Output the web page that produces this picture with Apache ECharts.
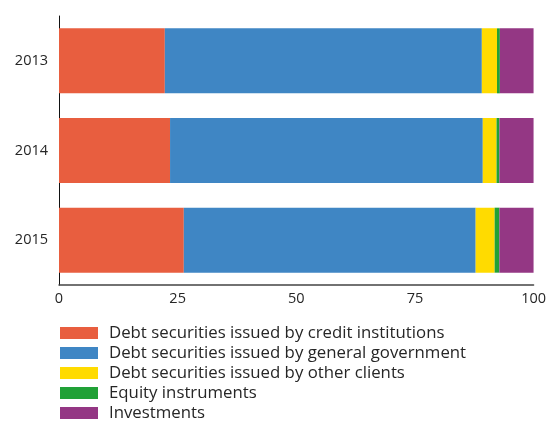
<!DOCTYPE html>
<html>
<head>
<meta charset="utf-8">
<script src="https://cdn.jsdelivr.net/npm/echarts@6/dist/echarts.min.js"></script>
<style>
  html, body { margin: 0; padding: 0; background: #fff; }
  #chart { width: 549px; height: 422px; }
</style>
</head>
<body>
<div id="chart"></div>
<script>
// Portfolio composition by year, shares in percent
const years = ['2013', '2014', '2015'];
const seriesNames = [
  'Debt securities issued by credit institutions',
  'Debt securities issued by general government',
  'Debt securities issued by other clients',
  'Equity instruments',
  'Investments'
];
const creditInstitutions = [22.3, 23.4, 26.3];
const generalGovernment = [66.8, 65.9, 61.5];
const otherClients = [3.2, 2.9, 4.0];
const equityInstruments = [0.6, 0.6, 1.0];
const investments = [7.1, 7.2, 7.2];
const xTicks = [0, 25, 50, 75, 100];

const colors = ['#e85e3f', '#3f86c4', '#ffdb00', '#21a136', '#943784'];
const values = [creditInstitutions, generalGovernment, otherClients, equityInstruments, investments];

const chart = echarts.init(document.getElementById('chart'));
chart.setOption({
  animation: false,
  textStyle: { fontFamily: 'Open Sans, sans-serif' },
  grid: { left: 59, right: 15, top: 16, bottom: 137 },
  legend: {
    orient: 'vertical',
    left: 60,
    top: 323,
    height: 110,
    itemWidth: 38,
    itemHeight: 12,
    itemGap: 0,
    icon: 'rect',
    padding: 0,
    textStyle: { fontSize: 16.8, lineHeight: 20, color: '#262626', padding: [0, 0, 0, 6] },
    data: seriesNames
  },
  xAxis: {
    type: 'value',
    min: xTicks[0],
    max: xTicks[xTicks.length - 1],
    interval: 25,
    splitLine: { show: false },
    axisLine: { show: true, lineStyle: { color: '#444', width: 1.5 } },
    axisTick: { show: false },
    axisLabel: { fontSize: 14.5, color: '#262626', margin: 6 }
  },
  yAxis: {
    type: 'category',
    inverse: true,
    data: years,
    axisLine: { show: true, lineStyle: { color: '#111', width: 1 } },
    axisTick: { show: false },
    axisLabel: { fontSize: 14.5, color: '#262626', margin: 11 }
  },
  series: seriesNames.map((name, i) => ({
    name: name,
    type: 'bar',
    stack: 'total',
    barWidth: 65,
    itemStyle: { color: colors[i] },
    data: values[i]
  }))
});
</script>
</body>
</html>
